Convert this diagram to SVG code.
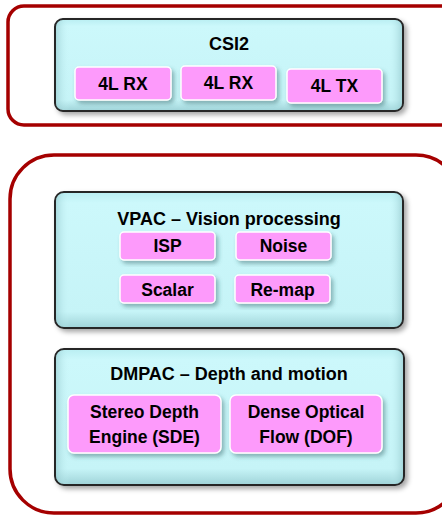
<svg xmlns="http://www.w3.org/2000/svg" width="442" height="519" viewBox="0 0 442 519">
  <defs>
    <linearGradient id="cyanFill" x1="0" y1="0" x2="0" y2="1">
      <stop offset="0" stop-color="#b9eef2"/>
      <stop offset="0.08" stop-color="#ccf8fb"/>
      <stop offset="0.88" stop-color="#c6f4f7"/>
      <stop offset="1" stop-color="#9fd3d8"/>
    </linearGradient>
    <linearGradient id="cyanSide" x1="0" y1="0" x2="1" y2="0">
      <stop offset="0" stop-color="#8fc4c9" stop-opacity="0.55"/>
      <stop offset="0.04" stop-color="#ccf8fb" stop-opacity="0"/>
      <stop offset="0.96" stop-color="#ccf8fb" stop-opacity="0"/>
      <stop offset="1" stop-color="#8fc4c9" stop-opacity="0.6"/>
    </linearGradient>
    <filter id="boxShadow" x="-10%" y="-10%" width="125%" height="130%">
      <feDropShadow dx="3" dy="3" stdDeviation="2.5" flood-color="#000" flood-opacity="0.35"/>
    </filter>
    <filter id="chipShadow" x="-10%" y="-15%" width="125%" height="140%">
      <feDropShadow dx="2.5" dy="3" stdDeviation="2" flood-color="#2f5f63" flood-opacity="0.45"/>
    </filter>
    <style>
      .frame { fill: #ffffff; stroke: #a50000; stroke-width: 3.5; }
      .block { fill: url(#cyanFill); stroke: #262626; stroke-width: 2; filter: url(#boxShadow); }
      .blockEdge { fill: url(#cyanSide); stroke: none; }
      .chip { fill: #fd9afb; stroke: #ffffff; stroke-width: 1.5; filter: url(#chipShadow); }
      .title { font-family: "Liberation Sans", Arial, sans-serif; font-weight: bold; font-size: 18px; fill: #000; text-anchor: middle; }
      .label { font-family: "Liberation Sans", Arial, sans-serif; font-weight: bold; font-size: 17.5px; fill: #000; text-anchor: middle; }
    </style>
  </defs>

  <!-- outer frames -->
  <rect class="frame" x="8" y="6" width="450" height="119" rx="16"/>
  <rect class="frame" x="10" y="155" width="450" height="358" rx="44"/>

  <!-- CSI2 block -->
  <g id="csi2">
    <rect class="block" x="55" y="19" width="348" height="92" rx="8"/>
    <rect class="blockEdge" x="56" y="20" width="346" height="90" rx="7"/>
    <text class="title" x="229" y="50">CSI2</text>
  </g>
  <g id="csi2-rx1">
    <rect class="chip" x="75" y="67" width="96" height="33" rx="4"/>
    <text class="label" x="123" y="90">4L RX</text>
  </g>
  <g id="csi2-rx2">
    <rect class="chip" x="181" y="66" width="95" height="34" rx="4"/>
    <text class="label" x="228.5" y="89">4L RX</text>
  </g>
  <g id="csi2-tx">
    <rect class="chip" x="287" y="69" width="95" height="34" rx="4"/>
    <text class="label" x="334.5" y="92">4L TX</text>
  </g>

  <!-- VPAC block -->
  <g id="vpac">
    <rect class="block" x="55" y="192" width="348" height="136" rx="9"/>
    <rect class="blockEdge" x="56" y="193" width="346" height="134" rx="8"/>
    <text class="title" x="229" y="225">VPAC – Vision processing</text>
  </g>
  <g id="vpac-isp">
    <rect class="chip" x="120" y="232" width="95" height="28" rx="4"/>
    <text class="label" x="167.5" y="252">ISP</text>
  </g>
  <g id="vpac-noise">
    <rect class="chip" x="236" y="232" width="95" height="28" rx="4"/>
    <text class="label" x="283.5" y="252">Noise</text>
  </g>
  <g id="vpac-scalar">
    <rect class="chip" x="120" y="275" width="95" height="28" rx="4"/>
    <text class="label" x="167.5" y="296">Scalar</text>
  </g>
  <g id="vpac-remap">
    <rect class="chip" x="235" y="275" width="95" height="28" rx="4"/>
    <text class="label" x="282.5" y="296">Re-map</text>
  </g>

  <!-- DMPAC block -->
  <g id="dmpac">
    <rect class="block" x="55" y="349" width="349" height="136" rx="9"/>
    <rect class="blockEdge" x="56" y="350" width="347" height="134" rx="8"/>
    <text class="title" x="229" y="380">DMPAC – Depth and motion</text>
  </g>
  <g id="dmpac-sde">
    <rect class="chip" x="68" y="395" width="153" height="58" rx="6"/>
    <text class="label" x="144.5" y="418">Stereo Depth</text>
    <text class="label" x="144.5" y="443">Engine (SDE)</text>
  </g>
  <g id="dmpac-dof">
    <rect class="chip" x="230" y="395" width="152" height="58" rx="6"/>
    <text class="label" x="306" y="418">Dense Optical</text>
    <text class="label" x="306" y="443">Flow (DOF)</text>
  </g>

  <!-- connectors: the blocks are nested, not linked -->
  <g id="connectors"/>
</svg>
